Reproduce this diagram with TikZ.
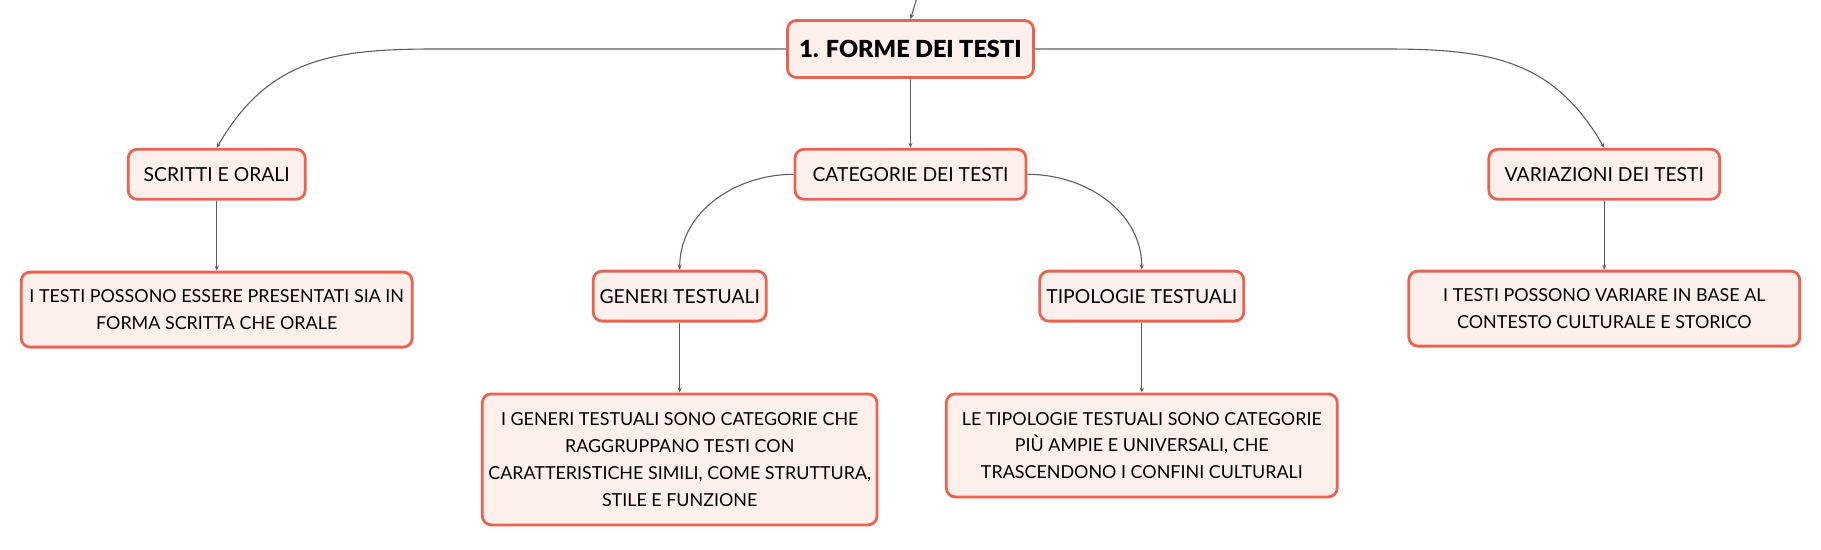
\documentclass[tikz,border=0pt]{standalone}
\usepackage{fontspec}
\setmainfont{Lato}
\newfontfamily\blackfont{Lato Black}
\usetikzlibrary{arrows.meta,positioning}
\definecolor{boxline}{HTML}{E9634F}
\definecolor{boxfill}{HTML}{FDF0EC}
\definecolor{linkgray}{HTML}{5E5E5E}

\begin{document}
\begin{tikzpicture}[
    topic/.style={rectangle, draw=boxline, fill=boxfill, line width=2.8pt, rounded corners=9pt, minimum width=246pt, minimum height=57pt, font=\blackfont\fontsize{23.5}{28}\selectfont},
    branch/.style={rectangle, draw=boxline, fill=boxfill, line width=2.8pt, rounded corners=9pt, minimum height=50pt, inner xsep=6pt, font=\fontsize{19.3}{27}\selectfont},
    note/.style={branch, minimum width=391pt, align=center, font=\fontsize{17.9}{26.8}\selectfont},
    line/.style={draw=linkgray, line width=1.1pt, -{Stealth[length=5pt,width=4pt]}}
  ]
    \useasboundingbox (0,0) rectangle (1821pt,-549pt);
    \node [topic] (forme) at (910.5pt,-49pt) {1. FORME DEI TESTI};
    \node [branch, minimum width=231pt, below=69pt of forme] (categorie) {CATEGORIE DEI TESTI};
    \node [branch, minimum width=177pt, left=487pt of categorie] (scritti) {SCRITTI E ORALI};
    \node [branch, minimum width=231pt, right=460pt of categorie] (variazioni) {VARIAZIONI DEI TESTI};
    \node [branch, minimum width=173pt, below left=69pt and 26pt of categorie] (generi) {GENERI TESTUALI};
    \node [branch, minimum width=204pt, below right=69pt and 11pt of categorie] (tipologie) {TIPOLOGIE TESTUALI};
    \node [note, minimum height=75pt, below=70pt of scritti] (scrittinota) {I TESTI POSSONO ESSERE PRESENTATI SIA IN\\FORMA SCRITTA CHE ORALE};
    \node [note, minimum height=131pt, below=70pt of generi] (generinota) {I GENERI TESTUALI SONO CATEGORIE CHE\\RAGGRUPPANO TESTI CON\\CARATTERISTICHE SIMILI, COME STRUTTURA,\\STILE E FUNZIONE};
    \node [note, minimum height=103pt, below=70pt of tipologie] (tipologienota) {LE TIPOLOGIE TESTUALI SONO CATEGORIE\\PIÙ AMPIE E UNIVERSALI, CHE\\TRASCENDONO I CONFINI CULTURALI};
    \node [note, minimum height=75pt, below=69pt of variazioni] (variazioninota) {I TESTI POSSONO VARIARE IN BASE AL\\CONTESTO CULTURALE E STORICO};
    \coordinate (sopra) at ([xshift=9pt,yshift=30pt]forme.north);

    \path [line] (sopra) -- (forme.north);
    \path [line] (forme.west) -- ++(-351pt,0) to[out=180,in=60,looseness=1.1] (scritti.north);
    \path [line] (forme) -- (categorie);
    \path [line] (forme.east) -- ++(350pt,0) to[out=0,in=120,looseness=1.1] (variazioni.north);
    \path [line] (categorie.west) to[out=180,in=90] (generi.north);
    \path [line] (categorie.east) to[out=0,in=90] (tipologie.north);
    \path [line] (scritti) -- (scrittinota);
    \path [line] (generi) -- (generinota);
    \path [line] (tipologie) -- (tipologienota);
    \path [line] (variazioni) -- (variazioninota);
\end{tikzpicture}
\end{document}
